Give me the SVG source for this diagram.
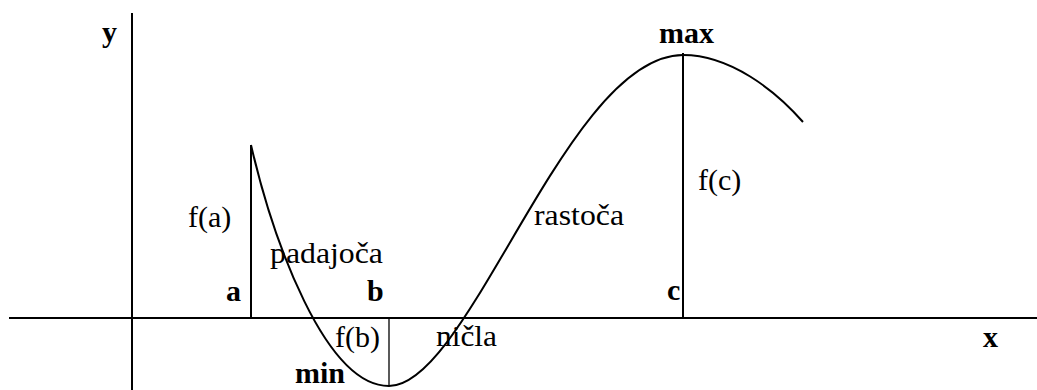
<svg xmlns="http://www.w3.org/2000/svg" width="1037" height="390" viewBox="0 0 1037 390">
<style>
.ln{stroke:#000;fill:none;stroke-width:2}
.thin{stroke:#000;fill:none;stroke-width:1.3}
.b{font-weight:bold}
</style>
<rect width="1037" height="390" fill="#fff"/>
<g id="axes">
<line class="ln" x1="9" y1="318" x2="1037" y2="318"/>
<line class="ln" x1="132" y1="13" x2="132" y2="390"/>
</g>
<g id="curve">
<path class="ln" d="M251,145 C273,240 325,386 389,386 C470,386 567,55 683,55 C730,55 775,90 803,122"/>
</g>
<g id="verticals">
<line class="ln" x1="251" y1="145" x2="251" y2="318"/>
<line class="thin" x1="389" y1="318" x2="389" y2="386"/>
<line class="ln" x1="683" y1="53" x2="683" y2="318"/>
</g>
<g id="labels" font-family="'Liberation Serif', 'Times New Roman', serif" font-size="30" fill="#000">
<text class="b" x="102" y="42">y</text>
<text class="b" x="659" y="43">max</text>
<text x="698" y="190">f(c)</text>
<text x="188" y="227">f(a)</text>
<text x="270" y="263" textLength="113" lengthAdjust="spacingAndGlyphs">padajoča</text>
<text x="534" y="225" textLength="90" lengthAdjust="spacingAndGlyphs">rastoča</text>
<text class="b" x="226" y="301">a</text>
<text class="b" x="367" y="301">b</text>
<text class="b" x="667" y="300">c</text>
<text x="335" y="347">f(b)</text>
<text x="436" y="346" textLength="61" lengthAdjust="spacingAndGlyphs">ničla</text>
<text class="b" x="295" y="383">min</text>
<text class="b" x="983" y="347">x</text>
</g>
</svg>
